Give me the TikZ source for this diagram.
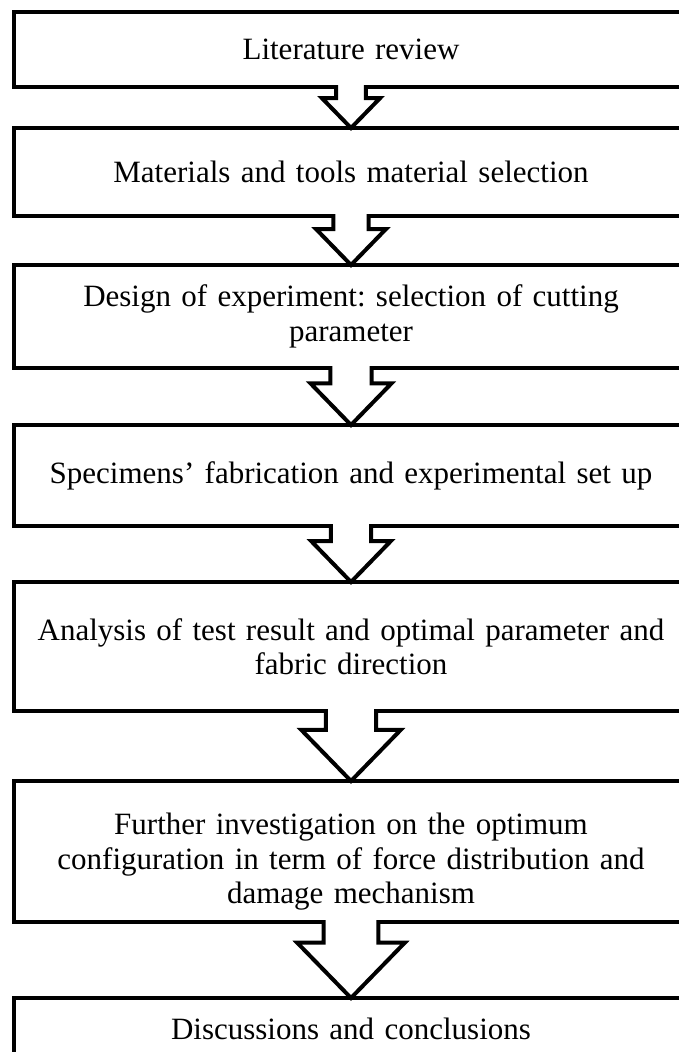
\documentclass[tikz,border=0pt]{standalone}
\usepackage{fontspec}
\setmainfont{Liberation Serif}
\usetikzlibrary{calc}
\frenchspacing

\begin{document}
\begin{tikzpicture}[x=1pt,y=-1pt,
  stage/.style={draw,line width=4pt,rectangle,outer sep=0pt,minimum width=674pt,
    text width=650pt,align=center,font=\fontsize{31}{34.5}\selectfont},
  flowarrow/.style={line width=4pt,line join=miter}]
\useasboundingbox (0,0) rectangle (679,1052);
\clip (0,0) rectangle (679,1052);
% stages of the work
\node[stage,minimum height=75pt] (lit) at (351,49.5) {Literature review};
\node[stage,minimum height=88pt] (mat) at (351,172) {Materials and tools material selection};
\node[stage,minimum height=103pt] (doe) at (351,316.5) {Design of experiment: selection of cutting\\ parameter};
\node[stage,minimum height=101pt] (fab) at (351,475.5) {Specimens’ fabrication and experimental set up};
\node[stage,minimum height=129pt] (ana) at (351,646.5) {Analysis of test result and optimal parameter and\\ fabric direction};
\node[stage,minimum height=141pt] (inv) at (351,851.5) {\rule{0pt}{42pt}Further investigation on the optimum\\ configuration in term of force distribution and\\ damage mechanism};
\node[stage,minimum height=62pt] (dis) at (351,1029) {Discussions and conclusions};
% block arrows between the stages
\foreach \a/\b in {lit/mat,mat/doe,doe/fab,fab/ana,ana/inv,inv/dis}
{
	\fill[white] let \p1=(\a.south), \p2=(\b.north), \n1={\y1-\y2} in
	  (\x1-0.36*\n1,\y1+3pt) -- (\x1-0.36*\n1,\y1-0.27*\n1) -- (\x1-0.71*\n1,\y1-0.27*\n1)
	  -- (\x2,\y2) -- (\x1+0.71*\n1,\y1-0.27*\n1) -- (\x1+0.36*\n1,\y1-0.27*\n1)
	  -- (\x1+0.36*\n1,\y1+3pt) -- cycle;
	\draw[flowarrow] let \p1=(\a.south), \p2=(\b.north), \n1={\y1-\y2} in
	  (\x1-0.36*\n1,\y1+2pt) -- (\x1-0.36*\n1,\y1-0.27*\n1) -- (\x1-0.71*\n1,\y1-0.27*\n1)
	  -- (\x2,\y2) -- (\x1+0.71*\n1,\y1-0.27*\n1) -- (\x1+0.36*\n1,\y1-0.27*\n1)
	  -- (\x1+0.36*\n1,\y1+2pt);
}
\end{tikzpicture}
\end{document}
